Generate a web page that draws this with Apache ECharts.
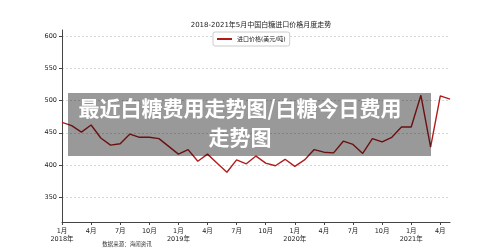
<!DOCTYPE html>
<html>
<head>
<meta charset="utf-8">
<script src="https://cdn.jsdelivr.net/npm/echarts@6/dist/echarts.min.js"></script>
<style>
  html, body { margin: 0; padding: 0; background: #fff; }
  #main { width: 500px; height: 250px; }
</style>
</head>
<body>
<div id="main"></div>
<script>
// 月份（2018年1月 - 2021年5月）
const categories = [
  '2018-01', '2018-02', '2018-03', '2018-04', '2018-05', '2018-06', '2018-07', '2018-08', '2018-09', '2018-10', '2018-11', '2018-12',
  '2019-01', '2019-02', '2019-03', '2019-04', '2019-05', '2019-06', '2019-07', '2019-08', '2019-09', '2019-10', '2019-11', '2019-12',
  '2020-01', '2020-02', '2020-03', '2020-04', '2020-05', '2020-06', '2020-07', '2020-08', '2020-09', '2020-10', '2020-11', '2020-12',
  '2021-01', '2021-02', '2021-03', '2021-04', '2021-05'
]
// 进口价格(美元/吨)
const importPrice = [
  466, 461, 451, 462, 442, 431, 433, 448, 443, 443, 441, 429,
  417, 424, 406, 417, 403, 389, 408, 402, 414, 403, 399, 409,
  398, 408, 424, 420, 419, 437, 432, 418, 441, 436, 443, 459,
  459, 508, 428, 507, 502
]
const yTicks = [350, 400, 450, 500, 550, 600]

const chart = echarts.init(document.getElementById('main'), null, { renderer: 'canvas' })
const baseFont = 'DejaVu Sans, Noto Sans CJK SC, sans-serif'

let option = {
  animation: false,
  textStyle: { fontFamily: baseFont },
  title: {
    text: '2018-2021年5月中国白糖进口价格月度走势',
    left: 256, top: 17, textAlign: 'center',
    textStyle: { fontSize: 7, fontWeight: 'normal', color: '#222', fontFamily: baseFont }
  },
  legend: {
    left: 213, top: 32,
    icon: 'rect', itemWidth: 15, itemHeight: 2, itemGap: 4,
    padding: [4, 4], borderColor: '#ccc', borderWidth: 1, borderRadius: 2,
    backgroundColor: '#fff',
    textStyle: { fontSize: 6, color: '#222' },
    data: ['进口价格(美元/吨)']
  },
  grid: { left: 62, right: 50, top: 30, bottom: 28 },
  xAxis: {
    type: 'category',
    data: categories,
    boundaryGap: false,
    axisLine: { lineStyle: { color: '#444', width: 1 } },
    axisTick: { interval: 2, length: 3, lineStyle: { color: '#444' } },
    axisLabel: {
      interval: 2, fontSize: 6.5, color: '#222', margin: 5, lineHeight: 8.5,
      formatter: function (val) {
        const [y, m] = val.split('-')
        const mm = parseInt(m, 10)
        return mm === 1 ? mm + '月\n' + y + '年' : mm + '月'
      }
    },
    splitLine: { show: false }
  },
  yAxis: {
    type: 'value',
    min: 312, max: 609,
    axisLine: { show: true, lineStyle: { color: '#444', width: 1 } },
    axisTick: { show: true, length: 3, customValues: yTicks, lineStyle: { color: '#444' } },
    axisLabel: { fontSize: 6.5, color: '#222', margin: 5, customValues: yTicks },
    splitLine: { show: true, lineStyle: { color: '#ccc', type: [2, 2], width: 0.8 } }
  },
  series: [{
    name: '进口价格(美元/吨)',
    type: 'line',
    data: importPrice,
    symbol: 'none',
    lineStyle: { color: '#b01c1c', width: 1.4 },
    itemStyle: { color: '#b01c1c' },
    z: 3
  }],
  graphic: [
    {
      type: 'rect', z: 100,
      shape: { x: 68, y: 93, width: 363, height: 63 },
      style: { fill: 'rgba(0,0,0,0.4)' }
    },
    {
      type: 'text', z: 101, x: 240, y: 123,
      style: {
        text: '最近白糖费用走势图/白糖今日费用\n走势图',
        align: 'center', verticalAlign: 'middle',
        font: 'bold 21px "Noto Sans CJK SC", sans-serif',
        lineHeight: 29, fill: '#fff'
      }
    },
    {
      type: 'text', z: 5, x: 127, y: 243.5,
      style: {
        text: '数据来源：海闻资讯',
        align: 'center', verticalAlign: 'middle',
        font: '5.5px "Noto Sans CJK SC", sans-serif', fill: '#333'
      }
    }
  ]
}
chart.setOption(option)
</script>
</body>
</html>
